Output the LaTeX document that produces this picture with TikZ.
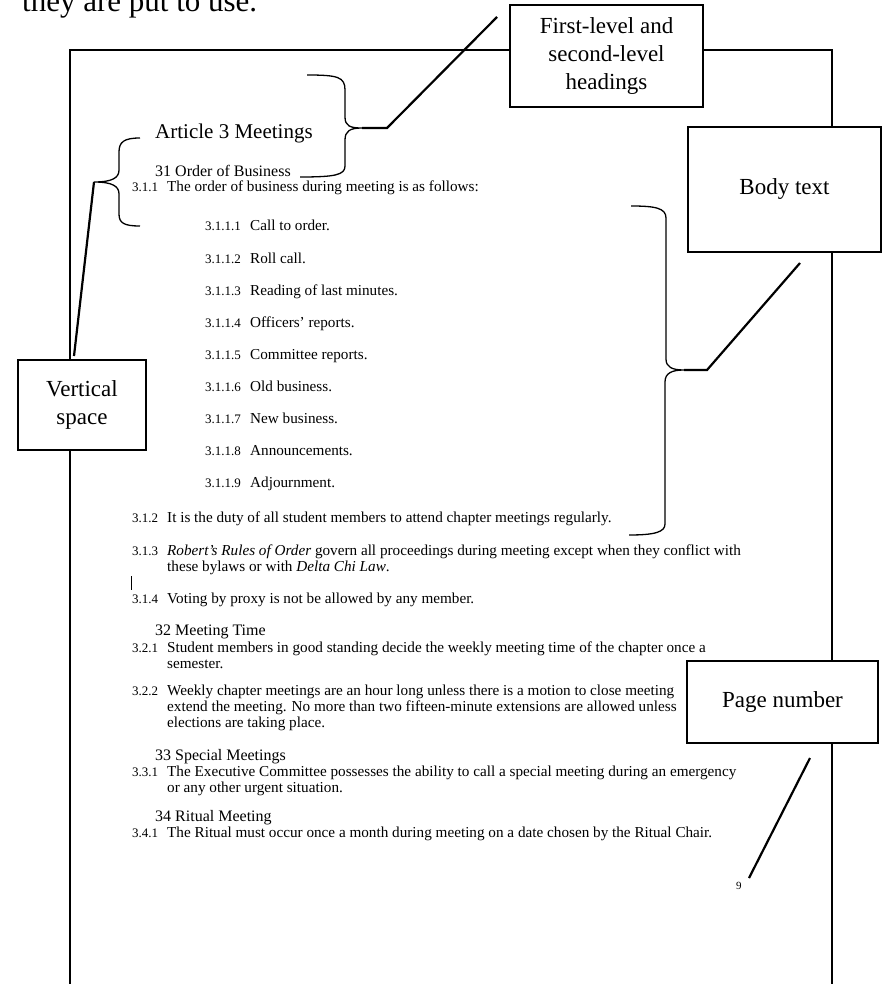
\documentclass[tikz,border=0pt]{standalone}
\usepackage{fontspec}
\setmainfont{Liberation Serif}
\begin{document}
\begin{tikzpicture}[x=1pt,y=-1pt,
  callout/.style={draw=black,line width=2.4pt,fill=white,align=center,font=\fontsize{23}{28}\selectfont,inner sep=0pt},
  frameline/.style={line width=1.8pt},
  brace/.style={line width=1.3pt},
  lead/.style={line width=2.2pt},
  body/.style={anchor=base west,inner sep=0pt,font=\fontsize{15.2}{18}\selectfont},
  num/.style={anchor=base west,inner sep=0pt,font=\fontsize{13}{16}\selectfont},
  hone/.style={anchor=base west,inner sep=0pt,font=\fontsize{21}{24}\selectfont},
  htwo/.style={anchor=base west,inner sep=0pt,font=\fontsize{16}{19}\selectfont}]
\useasboundingbox (0,0) rectangle (884,984);
% introductory text cut by the top edge
\node[anchor=base west,inner sep=0pt,font=\fontsize{31}{36}\selectfont] (intro) at (22,12) {they are put to use.};
% page frame
\draw[frameline] (70,984) -- (70,50) -- (832,50) -- (832,984);
% headings and body text
\node[hone] (art) at (155,139) {Article 3 Meetings};
\node[htwo] (h31) at (155,177) {31 Order of Business};
\node[num] (n311) at (132,192) {3.1.1};
\node[body] (t311) at (167,192) {The order of business during meeting is as follows:};
\node[num] (n1) at (205,231) {3.1.1.1}; \node[body] (t1) at (250,231) {Call to order.};
\node[num] (n2) at (205,263) {3.1.1.2}; \node[body] (t2) at (250,263) {Roll call.};
\node[num] (n3) at (205,295) {3.1.1.3}; \node[body] (t3) at (250,295) {Reading of last minutes.};
\node[num] (n4) at (205,327) {3.1.1.4}; \node[body] (t4) at (250,327) {Officers' reports.};
\node[num] (n5) at (205,359) {3.1.1.5}; \node[body] (t5) at (250,359) {Committee reports.};
\node[num] (n6) at (205,391) {3.1.1.6}; \node[body] (t6) at (250,391) {Old business.};
\node[num] (n7) at (205,423) {3.1.1.7}; \node[body] (t7) at (250,423) {New business.};
\node[num] (n8) at (205,455) {3.1.1.8}; \node[body] (t8) at (250,455) {Announcements.};
\node[num] (n9) at (205,487) {3.1.1.9}; \node[body] (t9) at (250,487) {Adjournment.};
\node[num] (n312) at (132,522) {3.1.2};
\node[body] (t312) at (167,522) {It is the duty of all student members to attend chapter meetings regularly.};
\node[num] (n313) at (132,555) {3.1.3};
\node[body] (t313a) at (167,555) {\textit{Robert's Rules of Order} govern all proceedings during meeting except when they conflict with};
\node[body] (t313b) at (167,571) {these bylaws or with \textit{Delta Chi Law}.};
\draw[line width=1pt] (131,576) -- (131,590);
\node[num] (n314) at (132,603) {3.1.4};
\node[body] (t314) at (167,603) {Voting by proxy is not be allowed by any member.};
\node[htwo] (h32) at (155,635) {32 Meeting Time};
\node[num] (n321) at (132,652) {3.2.1};
\node[body] (t321a) at (167,652) {Student members in good standing decide the weekly meeting time of the chapter once a};
\node[body] (t321b) at (167,668) {semester.};
\node[num] (n322) at (132,695) {3.2.2};
\node[body] (t322a) at (167,695) {Weekly chapter meetings are an hour long unless there is a motion to close meeting};
\node[body] (t322b) at (167,711) {extend the meeting. No more than two fifteen-minute extensions are allowed unless};
\node[body] (t322c) at (167,727) {elections are taking place.};
\node[htwo] (h33) at (155,760) {33 Special Meetings};
\node[num] (n331) at (132,776) {3.3.1};
\node[body] (t331a) at (167,776) {The Executive Committee possesses the ability to call a special meeting during an emergency};
\node[body] (t331b) at (167,792) {or any other urgent situation.};
\node[htwo] (h34) at (155,821) {34 Ritual Meeting};
\node[num] (n341) at (132,837) {3.4.1};
\node[body] (t341) at (167,837) {The Ritual must occur once a month during meeting on a date chosen by the Ritual Chair.};
\node[num,font=\fontsize{11}{13}\selectfont] (pg) at (736,889) {9};
% callout boxes
\node[callout,minimum width=193pt,minimum height=102pt] (hdg) at (606.5,56) {First-level and\\second-level\\headings};
\node[callout,minimum width=193pt,minimum height=125pt] (bdy) at (784.5,189.5) {Body text};
\node[callout,minimum width=128pt,minimum height=90pt] (vsp) at (82,405) {Vertical\\space};
\node[callout,minimum width=191pt,minimum height=82pt] (pgn) at (782.5,702) {Page number};
% heading brace
\coordinate (hbt) at (362,128);
\draw[brace] (307,75) .. controls (338,75) and (345,77) .. (345,90) -- (345,117)
  .. controls (345,126) and (350,128) .. (hbt)
  .. controls (350,128) and (345,131) .. (345,140) -- (345,166)
  .. controls (345,175) and (335,177) .. (300,177);
\coordinate (hlead) at (497,17);
\draw[lead] (hbt) -- (387,128) -- (hlead);
% vertical-space brace
\coordinate (vbt) at (94,182);
\draw[brace] (140,138) .. controls (124,138) and (119,142) .. (119,152) -- (119,170)
  .. controls (119,178) and (112,182) .. (vbt)
  .. controls (112,182) and (119,186) .. (119,194) -- (119,214)
  .. controls (119,223) and (124,226) .. (140,226);
\coordinate (vlead) at (74,356);
\draw[lead] (vbt) -- (vlead);
% body brace
\coordinate (bbt) at (684,370);
\draw[brace] (631,206) .. controls (655,206) and (666,208) .. (666,218) -- (666,359)
  .. controls (666,367) and (672,370) .. (bbt)
  .. controls (672,370) and (665,373) .. (665,382) -- (665,524)
  .. controls (665,532) and (655,535) .. (629,535);
\coordinate (blead) at (800,263);
\draw[lead] (bbt) -- (707,370) -- (blead);
% page-number leader
\coordinate (ptop) at (810,758);
\coordinate (pbot) at (749,878);
\draw[lead] (ptop) -- (pbot);
\end{tikzpicture}
\end{document}
